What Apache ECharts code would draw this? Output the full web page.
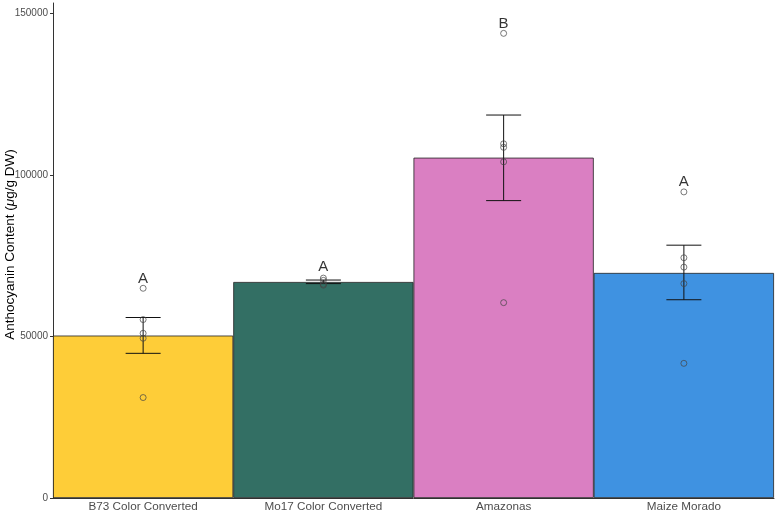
<!DOCTYPE html>
<html>
<head>
<meta charset="utf-8">
<script src="https://cdn.jsdelivr.net/npm/echarts@6/dist/echarts.min.js"></script>
<style>
  html, body { margin: 0; padding: 0; background: #fff; }
  #chart { width: 775px; height: 514px; }
</style>
</head>
<body>
<div id="chart"></div>
<script>
// data
var categories = ['B73 Color Converted', 'Mo17 Color Converted', 'Amazonas', 'Maize Morado'];
var means = [50300, 66900, 105400, 69700];
var errLow = [44800, 66400, 92100, 61400];
var errHigh = [55900, 67500, 118600, 78300];
var letters = ['A', 'A', 'B', 'A'];
var letterPos = [67900, 71600, 146900, 98000];
var points = [
    [64950, 55260, 51020, 49470, 31110],
    [68100, 67400, 66200, 65900],
    [143900, 109700, 108600, 104100, 60500],
    [94800, 74400, 71500, 66400, 41700]
];
var barColors = ['#FECD38', '#336F64', '#DA7FC2', '#3F92E1'];
var yTicks = [0, 50000, 100000, 150000];

var myChart = echarts.init(document.getElementById('chart'));

var pointData = [];
points.forEach(function (arr, i) {
    arr.forEach(function (v) { pointData.push([i, v]); });
});

var errData = categories.map(function (c, i) { return [i, errLow[i], errHigh[i]]; });

var option = {
    animation: false,
    grid: { left: 53, right: 1, top: 3, bottom: 16, containLabel: false, outerBoundsMode: 'none' },
    xAxis: {
        type: 'category',
        data: categories,
        axisLine: { lineStyle: { color: '#333', width: 1 } },
        axisTick: { alignWithLabel: true, length: 3, lineStyle: { color: '#333' } },
        axisLabel: { color: '#4d4d4d', fontSize: 11.7, fontFamily: 'Liberation Sans, Arial', margin: 3 }
    },
    yAxis: {
        type: 'value',
        min: 0,
        max: 153300,
        name: '{n|Anthocyanin Content (}{i|μ}{n|g/g DW)}',
        nameLocation: 'middle',
        nameGap: 36,
        nameMoveOverlap: false,
        nameTextStyle: {
            padding: [0, 0, 0, 12],
            rich: {
                n: { fontSize: 13.5, color: '#000', fontFamily: 'Liberation Sans, Arial' },
                i: { fontSize: 13.5, color: '#000', fontStyle: 'italic', fontFamily: 'Liberation Sans, Arial' }
            }
        },
        splitLine: { show: false },
        axisLine: { show: true, lineStyle: { color: '#333', width: 1 } },
        axisTick: { show: true, length: 3, customValues: yTicks, lineStyle: { color: '#333' } },
        axisLabel: {
            color: '#4d4d4d', fontSize: 10, fontFamily: 'Liberation Sans, Arial', margin: 5,
            customValues: yTicks,
            formatter: function (v) { return String(v); }
        }
    },
    series: [
        {
            type: 'bar',
            barCategoryGap: '0%',
            data: means.map(function (v, i) {
                return { value: v, itemStyle: { color: barColors[i] } };
            }),
            itemStyle: { borderColor: '#222', borderWidth: 0.8 }
        },
        {
            type: 'custom',
            data: errData,
            z: 5,
            renderItem: function (params, api) {
                var x = api.value(0);
                var lo = api.coord([x, api.value(1)]);
                var hi = api.coord([x, api.value(2)]);
                var hw = 17.5;
                var st = { stroke: '#111', lineWidth: 1 };
                return {
                    type: 'group',
                    children: [
                        { type: 'line', shape: { x1: lo[0], y1: lo[1], x2: hi[0], y2: hi[1] }, style: st },
                        { type: 'line', shape: { x1: lo[0] - hw, y1: lo[1], x2: lo[0] + hw, y2: lo[1] }, style: st },
                        { type: 'line', shape: { x1: hi[0] - hw, y1: hi[1], x2: hi[0] + hw, y2: hi[1] }, style: st }
                    ]
                };
            }
        },
        {
            type: 'scatter',
            data: pointData,
            z: 6,
            symbol: 'circle',
            symbolSize: 6,
            itemStyle: { color: 'rgba(0,0,0,0)', borderColor: '#444', borderWidth: 0.9 }
        },
        {
            type: 'scatter',
            data: letterPos.map(function (v, i) { return [i, v]; }),
            symbolSize: 0,
            z: 7,
            label: {
                show: true,
                position: 'inside',
                formatter: function (p) { return letters[p.dataIndex]; },
                color: '#000',
                fontSize: 15,
                fontFamily: 'Liberation Sans, Arial'
            }
        }
    ]
};

myChart.setOption(option);
</script>
</body>
</html>
